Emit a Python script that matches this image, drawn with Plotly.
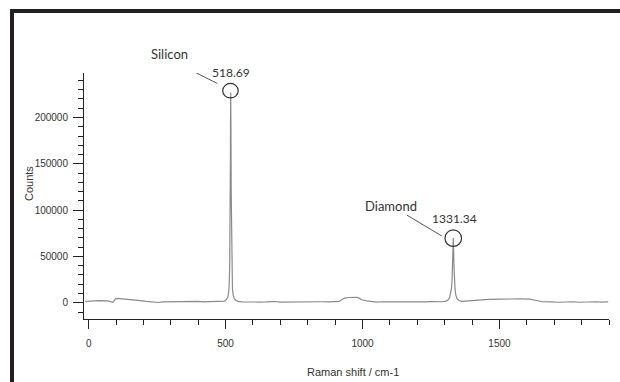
import plotly.graph_objects as go

# ---- data ----
raman_shift = [-12, 0, 15, 40, 70, 88, 92, 98, 105, 125, 150, 180, 210, 240, 255, 270, 300, 320, 340,
               360, 380, 400, 420, 440, 460, 480, 495, 500, 505, 508, 511, 513, 515, 516.5, 517.5,
               518, 518.69, 519.5, 520.5, 521.5, 523, 525, 528, 532, 538, 545, 560, 580, 600, 620,
               650, 680, 700, 730, 760, 790, 820, 850, 880, 900, 915, 925, 935, 950, 965, 980, 990,
               1000, 1015, 1030, 1050, 1070, 1090, 1110, 1130, 1150, 1170, 1190, 1210, 1230, 1250,
               1270, 1290, 1305, 1312, 1318, 1322, 1325, 1327, 1329, 1330.5, 1331.34, 1332.5, 1334,
               1336, 1338, 1341, 1345, 1352, 1362, 1375, 1400, 1430, 1460, 1500, 1540, 1580, 1610,
               1625, 1640, 1655, 1670, 1690, 1710, 1730, 1750, 1770, 1790, 1810, 1830, 1850, 1870,
               1885, 1897]
counts = [1500, 1800, 2500, 2400, 2000, 600, 1500, 4200, 4800, 4000, 3300, 2500, 1500, 1000, 300, 900,
          1100, 700, 1200, 900, 1000, 1500, 900, 1000, 1100, 1200, 1800, 2500, 4000, 6000, 11000,
          18000, 40000, 80000, 150000, 195000, 227000, 190000, 120000, 60000, 30000, 15000, 8000,
          4500, 2500, 1500, 1000, 700, 1200, 800, 1000, 1400, 800, 1000, 800, 1200, 900, 1100, 1000,
          1100, 1500, 3500, 5000, 5700, 5500, 5900, 4500, 3000, 2000, 1200, 800, 1100, 1000, 1400,
          900, 1000, 1300, 700, 1100, 900, 1200, 1000, 1100, 1800, 3000, 5500, 10000, 16000, 25000,
          45000, 65000, 70000, 60000, 38000, 22000, 14000, 8000, 4500, 2500, 1500, 1800, 2400, 3000,
          3600, 4000, 4300, 4200, 4000, 3500, 2200, 1200, 800, 1000, 600, 900, 700, 1100, 600, 1000,
          700, 1100, 800, 1000, 900]

peak_names = ["Silicon", "Diamond"]
peak_pos = [518.69, 1331.34]
peak_heights = [227000, 70000]
peak_labels = ["518.69", "1331.34"]

x_range = [-17, 1900]
y_range = [-17500, 248000]

# ---- figure ----
fig = go.Figure()
fig.add_trace(go.Scatter(x=raman_shift, y=counts, mode="lines",
                         line=dict(color="#8a8a8a", width=1.2), hoverinfo="skip",
                         showlegend=False))

# plot area pixel geometry
L, R, T, B = 84, 11, 73, 63
W, H = 620 - L - R, 382 - T - B


def px(xp):
    return (xp - L) / W


def py(yp):
    return (382 - B - yp) / H


axis_font = dict(family="Liberation Sans, Arial, sans-serif", size=10, color="#333333")

fig.update_layout(
    width=620, height=382,
    margin=dict(l=L, r=R, t=T, b=B),
    paper_bgcolor="white", plot_bgcolor="white",
    xaxis=dict(range=x_range, showgrid=False, zeroline=False, showline=True,
               linecolor="#222222", linewidth=1, ticks="outside", ticklen=9,
               tickcolor="#222222", tickwidth=1, dtick=500, tick0=0,
               tickfont=axis_font, ticklabelstandoff=6,
               minor=dict(ticks="outside", ticklen=5, dtick=100, tick0=0,
                          tickcolor="#222222", showgrid=False)),
    yaxis=dict(range=y_range, showgrid=False, zeroline=False, showline=True,
               linecolor="#222222", linewidth=1, ticks="outside", ticklen=10,
               tickcolor="#222222", tickwidth=1, dtick=50000, tick0=0,
               tickfont=axis_font, tickformat="d", ticklabelstandoff=3,
               minor=dict(ticks="outside", ticklen=5, dtick=10000, tick0=0,
                          tickcolor="#222222", showgrid=False)),
)

# axis titles
fig.add_annotation(text="Raman shift / cm-1", xref="paper", yref="paper",
                   x=px(353), y=py(372), xanchor="center", yanchor="middle", showarrow=False,
                   font=dict(family="Liberation Sans, Arial, sans-serif", size=11, color="#333333"))
fig.add_annotation(text="Counts", xref="paper", yref="paper",
                   x=px(29), y=py(184), xanchor="center", yanchor="middle", showarrow=False,
                   textangle=-90,
                   font=dict(family="Liberation Sans, Arial, sans-serif", size=11, color="#333333"))

# peak annotations (pixel offsets relative to the peak tops)
ann_font = dict(family="Lato, Open Sans, sans-serif", size=13, color="#333333")
num_font = dict(family="Lato, Open Sans, sans-serif", size=12, color="#333333")
offsets = [
    dict(name=(-61, 38), num=(0, 20), line=(-54.7, 29.7, -13.4, 9), circ=(-8, 7.5, -5.5, 9)),
    dict(name=(-62, 32), num=(1, 19), line=(-46.6, 23, -11.6, 2), circ=(-8.3, 8.3, -8.5, 8)),
]
for name, xp, yh, lab, off in zip(peak_names, peak_pos, peak_heights, peak_labels, offsets):
    fig.add_annotation(text=name, x=xp, y=yh, xshift=off["name"][0], yshift=off["name"][1],
                       xanchor="center", yanchor="middle", showarrow=False, font=ann_font)
    fig.add_annotation(text=lab, x=xp, y=yh, xshift=off["num"][0], yshift=off["num"][1],
                       xanchor="center", yanchor="middle", showarrow=False, font=num_font)
    lx0, ly0, lx1, ly1 = off["line"]
    fig.add_shape(type="line", xref="x", yref="y", xsizemode="pixel", ysizemode="pixel",
                  xanchor=xp, yanchor=yh, x0=lx0, y0=ly0, x1=lx1, y1=ly1,
                  line=dict(color="#555555", width=1))
    cx0, cx1, cy0, cy1 = off["circ"]
    fig.add_shape(type="circle", xref="x", yref="y", xsizemode="pixel", ysizemode="pixel",
                  xanchor=xp, yanchor=yh, x0=cx0, x1=cx1, y0=cy0, y1=cy1,
                  line=dict(color="#333333", width=1.2))

# dark frame on top and left edges
frame_col = "#231f20"
fig.add_shape(type="rect", xref="paper", yref="paper", x0=px(10), x1=px(620), y0=py(13), y1=py(9),
              fillcolor=frame_col, line=dict(width=0), layer="above")
fig.add_shape(type="rect", xref="paper", yref="paper", x0=px(10), x1=px(14), y0=py(382), y1=py(9),
              fillcolor=frame_col, line=dict(width=0), layer="above")

fig.write_html("out.html", config={"displayModeBar": False},
               post_script="document.body.style.margin='0px';document.body.style.overflow='hidden';")
